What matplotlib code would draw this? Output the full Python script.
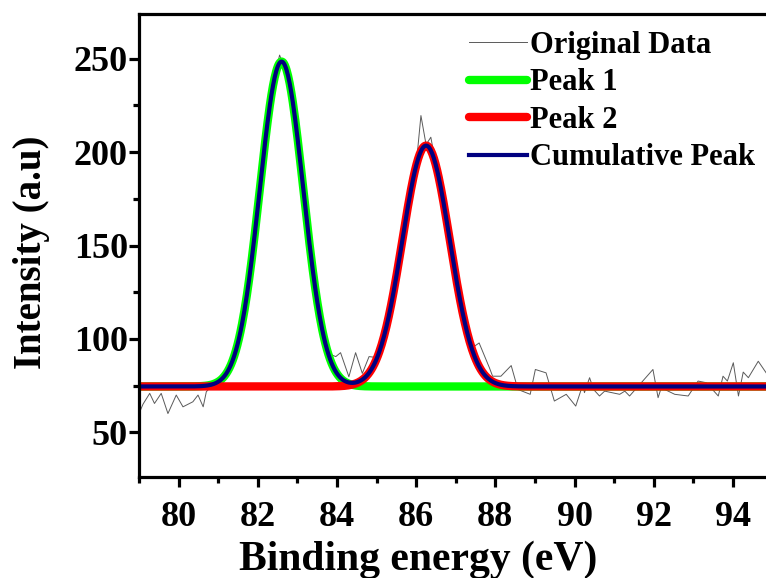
import numpy as np
import matplotlib
matplotlib.use("Agg")
import matplotlib.pyplot as plt
from matplotlib.ticker import MultipleLocator

energy = [79.0, 79.1, 79.27, 79.39, 79.56, 79.73, 79.94, 80.11, 80.36, 80.49,
          80.62, 80.7, 80.8, 81.0, 81.2, 81.4, 81.6, 81.8, 82.0, 82.2,
          82.4, 82.55, 82.8, 83.0, 83.2, 83.4, 83.6, 83.8, 83.97, 84.09,
          84.3, 84.47, 84.64, 84.81, 85.0, 85.2, 85.4, 85.6, 85.8, 86.0,
          86.12, 86.25, 86.37, 86.5, 86.6, 86.8, 87.0, 87.2, 87.4, 87.59,
          87.85, 87.93, 88.14, 88.4, 88.57, 88.88, 89.01, 89.28, 89.49, 89.79,
          90.03, 90.21, 90.25, 90.38, 90.48, 90.63, 90.76, 91.14, 91.27, 91.39,
          91.98, 92.11, 92.19, 92.53, 92.87, 93.12, 93.33, 93.63, 93.75, 93.86,
          94.01, 94.14, 94.26, 94.39, 94.64, 94.84]
counts = [60, 65, 70.8, 65.4, 70.8, 60, 69.9, 63.6, 66.3, 69.9,
          63.6, 71.7, 74, 77, 82, 91, 108, 135, 171, 209,
          238, 252, 238, 207, 171, 135, 108, 92, 90.5, 92.6,
          79.7, 92.6, 81.5, 90.5, 90, 103, 122, 146, 172, 193,
          219.6, 204, 208, 193, 184, 159, 134, 111, 95, 97.8,
          84.5, 80, 80, 85.7, 72.9, 70.3, 83.6, 81.8, 66.7, 70.3,
          64, 75.6, 71.2, 79.2, 72.9, 69.4, 72, 70.3, 72, 69.4,
          83.6, 68.5, 73.8, 70.3, 69.4, 77.4, 76.5, 69.4, 80, 77.4,
          87.2, 69.4, 82.2, 79.2, 88, 81.8]

# Fitted Gaussian peaks: baseline, centre, height, sigma
baseline = 74.5
centers = [82.6, 86.25]
heights = [174, 129]
sigmas = [0.55, 0.6]

x = np.linspace(79, 95, 800)
peak1 = baseline + heights[0] * np.exp(-(x - centers[0]) ** 2 / (2 * sigmas[0] ** 2))
peak2 = baseline + heights[1] * np.exp(-(x - centers[1]) ** 2 / (2 * sigmas[1] ** 2))
cumulative = peak1 + peak2 - baseline

plt.rcParams['font.family'] = 'Liberation Serif'
plt.rcParams['font.weight'] = 'bold'

fig = plt.figure(figsize=(7.66, 5.78), dpi=100)
ax = fig.add_axes([0.1815, 0.1747, 0.8270, 0.8011])

ax.plot(energy, counts, color='#5a5a5a', lw=0.7, label='Original Data')
ax.plot(x, peak1, color='#00ff00', lw=6, label='Peak 1', solid_capstyle='round')
ax.plot(x, peak2, color='#ff0000', lw=6, label='Peak 2', solid_capstyle='round')
ax.plot(x, cumulative, color='#000080', lw=3, label='Cumulative Peak')

ax.set_xlim(79, 95)
ax.set_ylim(26, 274)
ax.xaxis.set_major_locator(MultipleLocator(2))
ax.xaxis.set_minor_locator(MultipleLocator(1))
ax.yaxis.set_major_locator(MultipleLocator(50))
ax.yaxis.set_minor_locator(MultipleLocator(25))

for s in ax.spines.values():
    s.set_linewidth(2.3)
ax.tick_params(which='major', direction='out', length=7, width=2.3, labelsize=26)
ax.tick_params(axis='y', which='major', pad=1)
ax.tick_params(axis='x', which='major', pad=10)
ax.tick_params(which='minor', direction='out', length=4, width=2.3)

ax.set_xlabel('Binding energy (eV)', fontsize=30, fontweight='bold')
ax.set_ylabel('Intensity (a.u)', fontsize=28, fontweight='bold')
ax.xaxis.set_label_coords(0.44, -0.137)
ax.yaxis.set_label_coords(-0.14, 0.486)

leg = ax.legend(loc='upper right', bbox_to_anchor=(1.002, 0.968),
                bbox_transform=fig.transFigure, frameon=False,
                prop={'family': 'Liberation Serif', 'weight': 'bold', 'size': 22},
                handlelength=1.9, handletextpad=0.1, labelspacing=0.28,
                borderaxespad=0)

plt.savefig('out.png', dpi=100)
